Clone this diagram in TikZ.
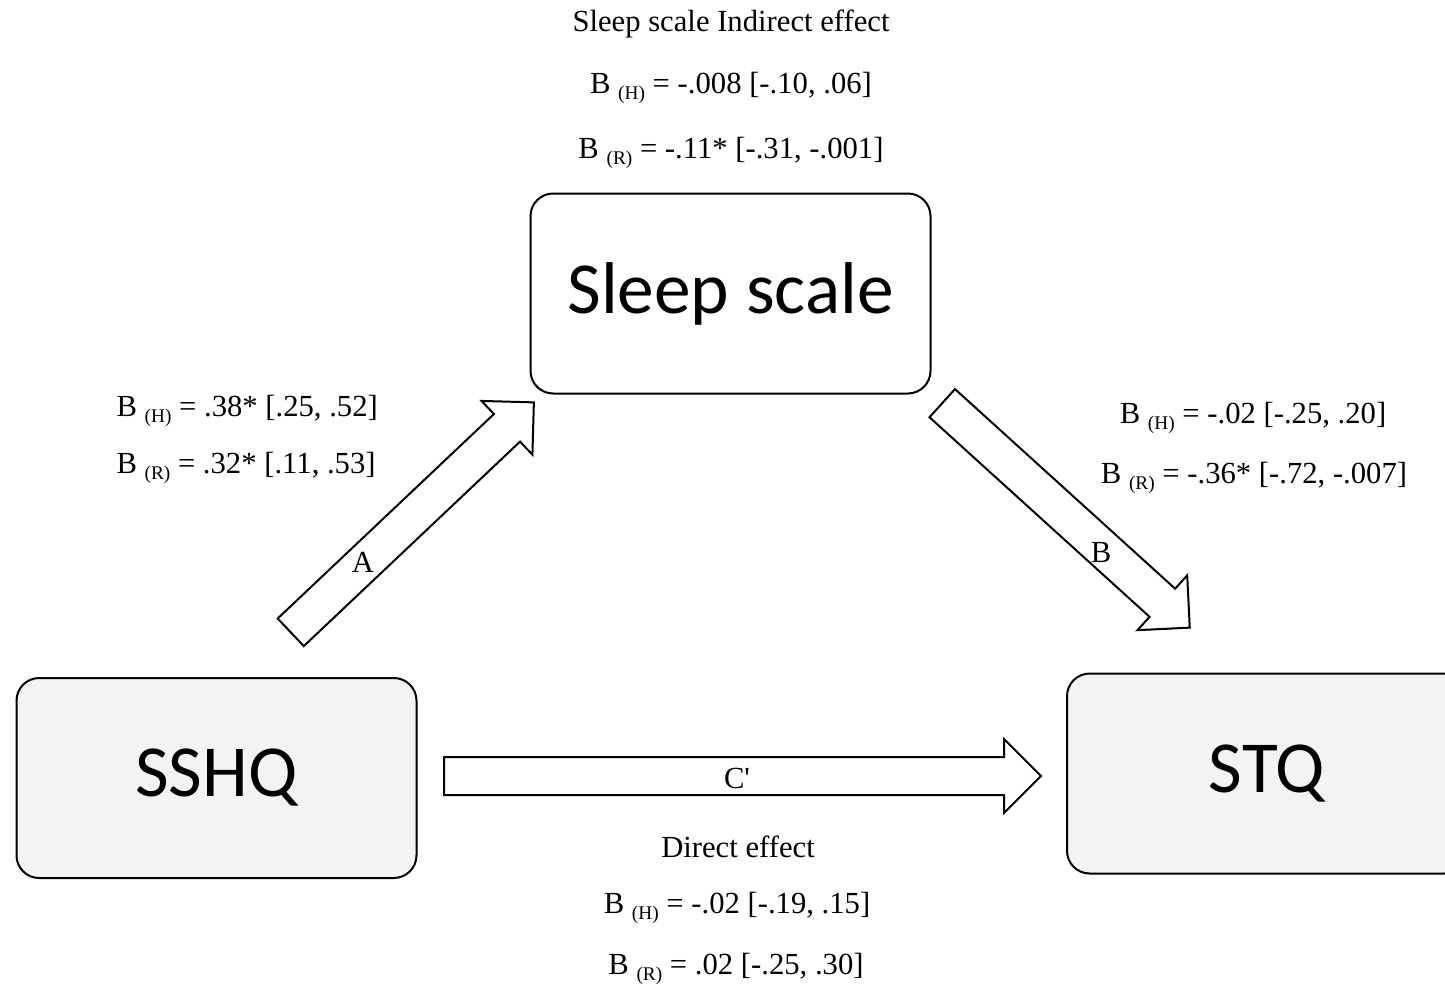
\documentclass[tikz,border=0pt]{standalone}
\usepackage{fontspec}
\setmainfont{Liberation Serif}
\newfontfamily\calibri{Carlito}
\usetikzlibrary{shapes.arrows}

\newcommand{\grp}[1]{\raisebox{-4pt}{\fontsize{14.5}{15}\selectfont(#1)}}

\tikzset{every picture/.style={line width=0.75pt}}

\begin{document}
\begin{tikzpicture}[x=0.75pt,y=0.75pt,yscale=-1,xscale=1,
	varbox/.style={draw, line width=1.5pt, rounded corners=17pt, minimum width=300pt, minimum height=150pt, font=\calibri\fontsize{55}{60}\selectfont},
	fatarrow/.style={single arrow, draw, fill=white, line width=1.5pt, inner xsep=0pt, inner ysep=13.5pt, single arrow head extend=13.5pt, single arrow tip angle=90, anchor=tail},
	stat/.style={inner sep=0.75pt, font=\fontsize{23}{27}\selectfont}]
	\useasboundingbox (0,0) rectangle (1445,990);
	\clip (0,0) rectangle (1445,990);
	
	%Rounded boxes
	\node [varbox, fill=white] (sleep) at (730.5,293.5) {Sleep scale};
	\node [varbox, fill={rgb, 255:red, 243; green, 243; blue, 246}] (sshq) at (216.5,778) {SSHQ};
	\node [varbox, fill={rgb, 255:red, 243; green, 243; blue, 246}] (stq) at (1267,773.5) {STQ};
	
	%Block arrows
	\coordinate (Atail) at (290,633);
	\coordinate (Btail) at (941.5,402.5);
	\coordinate (Ctail) at (443,776);
	\node [fatarrow, rotate=43.4, minimum height=251pt] (arrA) at (Atail) {};
	\node [fatarrow, rotate=-42.2, minimum height=250.6pt] (arrB) at (Btail) {};
	\node [fatarrow, minimum height=447.75pt] (arrC) at (Ctail) {};
	
	% Arrow labels
	\node [stat] (labA) at (363,562) {A};
	\node [stat] (labB) at (1101,552) {B};
	\node [stat] (labC) at (737,778) {C\textquotesingle};
	
	% Indirect effect
	\node [stat] (indT) at (731,24) {Sleep scale Indirect effect};
	\node [stat] (indH) at (731,88) {B \grp{H} = -.008 [-.10, .06]};
	\node [stat] (indR) at (731,153) {B \grp{R} = -.11* [-.31, -.001]};
	% Path A
	\node [stat, anchor=west] (aH) at (115,411) {B \grp{H} = .38* [.25, .52]};
	\node [stat, anchor=west] (aR) at (115,468) {B \grp{R} = .32* [.11, .53]};
	% Path B
	\node [stat] (bH) at (1253,418) {B \grp{H} = -.02 [-.25, .20]};
	\node [stat] (bR) at (1254,478) {B \grp{R} = -.36* [-.72, -.007]};
	% Direct effect
	\node [stat] (dirT) at (738,847) {Direct effect};
	\node [stat] (dirH) at (737,908) {B \grp{H} = -.02 [-.19, .15]};
	\node [stat] (dirR) at (736,969) {B \grp{R} = .02 [-.25, .30]};
	
\end{tikzpicture}
\end{document}
